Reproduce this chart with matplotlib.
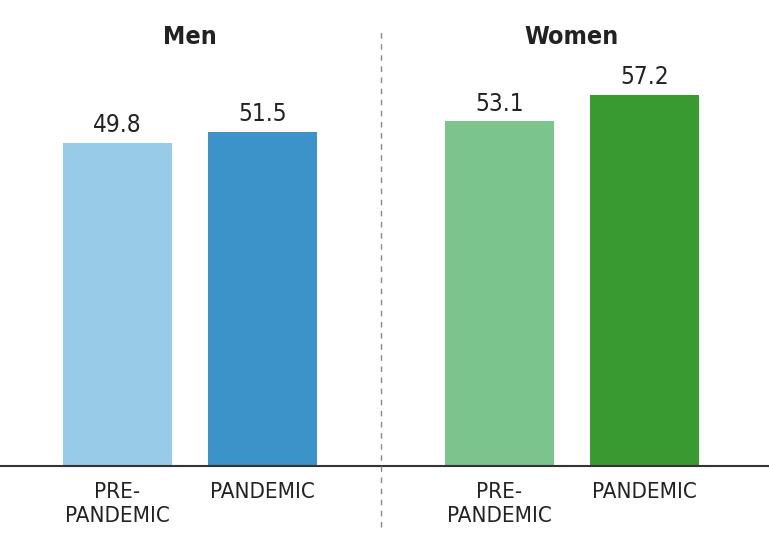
import matplotlib.pyplot as plt

groups = ["Men", "Women"]
labels = ["PRE-\nPANDEMIC", "PANDEMIC", "PRE-\nPANDEMIC", "PANDEMIC"]
values = [49.8, 51.5, 53.1, 57.2]
colors = ["#97cbe7", "#3b93c9", "#7bc48e", "#3a9a32"]

plt.rcParams['font.family'] = ['DejaVu Sans']
plt.rcParams['font.stretch'] = 'condensed'

xpos = [0, 1, 2.634, 3.634]

fig = plt.figure(figsize=(7.69, 5.55), dpi=100)
ax = fig.add_axes([0, 0, 1, 1])
ax.bar(xpos, values, width=0.752, color=colors)

for x, v in zip(xpos, values):
    ax.text(x, v + 0.85, f"{v:.1f}", ha="center", va="bottom", fontsize=17.5, color="#222222")

for x, lab in zip(xpos, labels):
    ax.text(x, -2.5, lab, ha="center", va="top", fontsize=16, color="#222222", linespacing=1.25)

for i, g in enumerate(groups):
    cx = (xpos[2 * i] + xpos[2 * i + 1]) / 2
    ax.text(cx, 64.3, g, ha="center", va="bottom", fontsize=18, fontweight="bold", color="#222222")

ax.axhline(0, color="#333333", lw=1.5)
ax.plot([1.817, 1.817], [-9.4, 67.6], color="#888888", lw=1, ls=(0, (4, 4)))

ax.set_xlim(-0.81, 4.493)
ax.set_ylim(-13.71, 71.8)
ax.axis("off")

fig.savefig("out.png", dpi=100)
